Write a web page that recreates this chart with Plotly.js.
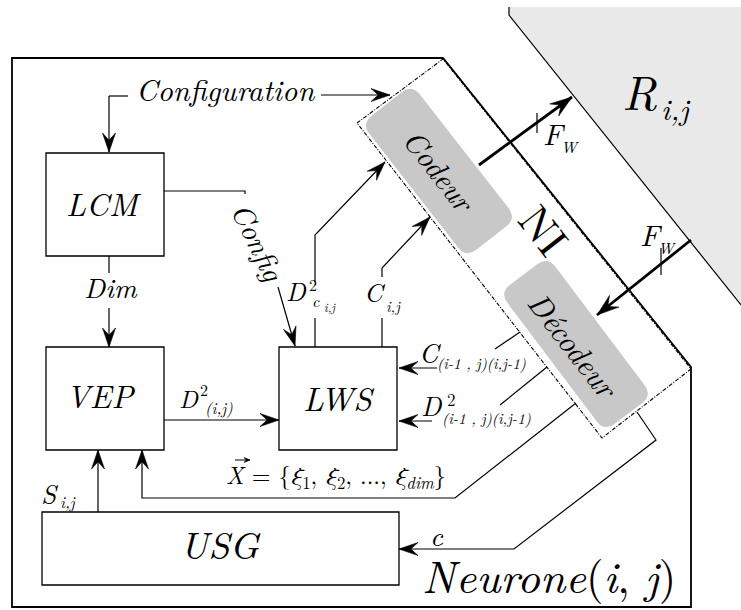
<!DOCTYPE html>
<html><head><meta charset="utf-8">
<script src="https://cdn.plot.ly/plotly-3.0.1.min.js"></script>
<style>html,body{margin:0;padding:0;background:#fff}#chart{width:741px;height:610px}</style>
</head><body><div id="chart"></div>
<script>
// ---- diagram labels (text content) ----
const blockLabels = ['LCM', 'VEP', 'LWS', 'USG'];
const interfaceLabels = ['Codeur', 'Décodeur', 'NI'];
const signalLabels = ['Configuration', 'Config', 'Dim', 'c'];
const subscriptLabels = ['i,j', '(i,j)', '(i-1 , j)(i,j-1)', 'W', 'dim'];
const containerLabels = ['Neurone', 'R'];

const FONT = 'Latin Modern Roman, CMU Serif, TeX Gyre Termes, Nimbus Roman, FreeSerif, Noto Serif, Liberation Serif, DejaVu Serif, Liberation Sans, sans-serif';
const shapes = [];
const ann = [];

function P(pts){ return 'M' + pts.map(p => p[0].toFixed(1) + ',' + p[1].toFixed(1)).join(' L'); }
function line(pts, w, dash){ shapes.push({type:'path', xref:'x', yref:'y', path:P(pts), line:{color:'#000', width:w||1.2, dash:dash||'solid'}}); }
function head(from, tip, L, H){
  L = L || 19; H = H || 6.5;
  const dx = tip[0]-from[0], dy = tip[1]-from[1], n = Math.hypot(dx,dy);
  const ux = dx/n, uy = dy/n, px = -uy, py = ux;
  const b1 = [tip[0]-ux*L+px*H, tip[1]-uy*L+py*H];
  const b2 = [tip[0]-ux*L-px*H, tip[1]-uy*L-py*H];
  const nn = [tip[0]-ux*L*0.62, tip[1]-uy*L*0.62];
  shapes.push({type:'path', xref:'x', yref:'y', path:P([tip,b1,nn,b2])+' Z', fillcolor:'#000', line:{color:'#000', width:0.6}});
}
function arrow(pts, w, L, H){ line(pts, w); head(pts[pts.length-2], pts[pts.length-1], L, H); }
function rrect(cx, cy, Lg, W, ang, r, fill){
  const t = ang*Math.PI/180, c = Math.cos(t), s = Math.sin(t);
  const tr = (u,v) => [cx + u*c - v*s, cy + u*s + v*c];
  const a = Lg/2, b = W/2;
  const f = p => p[0].toFixed(1)+','+p[1].toFixed(1);
  let d = 'M'+f(tr(-a+r,-b)) + ' L'+f(tr(a-r,-b)) + ' Q'+f(tr(a,-b))+' '+f(tr(a,-b+r))
        + ' L'+f(tr(a,b-r)) + ' Q'+f(tr(a,b))+' '+f(tr(a-r,b))
        + ' L'+f(tr(-a+r,b)) + ' Q'+f(tr(-a,b))+' '+f(tr(-a,b-r))
        + ' L'+f(tr(-a,-b+r)) + ' Q'+f(tr(-a,-b))+' '+f(tr(-a+r,-b)) + ' Z';
  shapes.push({type:'path', xref:'x', yref:'y', path:d, fillcolor:fill, line:{width:0}});
}
function box(x0,y0,x1,y1){ shapes.push({type:'rect', xref:'x', yref:'y', x0, y0, x1, y1, line:{color:'#000', width:1.3}}); }
function T(x, y, text, size, angle){
  const yy = angle ? y : y - 0.12*size;
  ann.push({x, y:yy, xref:'x', yref:'y', text, showarrow:false, textangle:angle||0,
    xanchor:'center', yanchor:'middle', font:{family:FONT, size:size, color:'#000'}});
}
const it = s => '<i>' + s + '</i>';

// ---- background / containers ----
shapes.push({type:'path', xref:'x', yref:'y', path:'M509,7 L741,7 L741,305 L509,15 Z', fillcolor:'#e9e9e9', line:{width:0}});
line([[509,7],[509,15],[741,305]], 1.2);
shapes.push({type:'path', xref:'x', yref:'y', path:'M12,58 L443,58 L691,367 L691,607 L12,607 Z', line:{color:'#000', width:1.8}});
rrect(439, 171, 170, 64, 52, 13, '#c8c8c8');
rrect(576, 344, 174, 60, 53, 13, '#c8c8c8');
shapes.push({type:'path', xref:'x', yref:'y', path:'M357,123 L443,59 L691,369 L602,438 Z', line:{color:'#000', width:1.1, dash:'4px,1.5px,1px,1.5px'}});

// ---- blocks ----
box(46,153,164,256);
box(46,347,164,450);
box(279,347,397,450);
box(42,512,399,585);

// ---- connections ----
line([[128,96],[109,96]]); arrow([[109,96],[109,152]]);
arrow([[321,95],[390,95]]);
line([[164,191],[245,191],[245,194]]);
arrow([[278,287],[295,346]]);
line([[109,256],[109,273]]); arrow([[109,308],[109,347]]);
arrow([[164,420],[279,420]]);
line([[315,347],[315,318]]); arrow([[315,282],[315,235],[385,162]]);
line([[382,347],[382,318]]); arrow([[382,277],[382,268],[430,217]]);
arrow([[437,368],[399,368]]);
line([[520,332],[495,349]]);
arrow([[432,421],[399,421]]);
line([[547,367],[500,405]]);
arrow([[576,403],[455,498],[142,498],[142,450]]);
arrow([[637,412],[656,440],[514,549],[399,549]]);
arrow([[98,512],[98,450]]);
arrow([[479,165],[572,97]], 2.8, 22, 7.5);
line([[537,113],[537,133]], 1.2);
arrow([[691,240],[597,315]], 2.8, 22, 7.5);
line([[661,248],[661,275]], 1.2);
arrow([[235,460],[250,460]], 1, 6, 2.5);

// ---- texts ----
T(225, 92, it(signalLabels[0]), 30);
T(104, 206, it(blockLabels[0]), 32);
T(100, 398, it(blockLabels[1]), 32);
T(338, 401, it(blockLabels[2]), 33);
T(220, 548, it(blockLabels[3]), 38);
T(260, 241, it(signalLabels[1]), 29, 64);
T(111, 289, it(signalLabels[2]), 28);
T(437, 537, it(signalLabels[3]), 28);
T(441, 170, it(interfaceLabels[0]), 30, 52);
T(575, 345, it(interfaceLabels[1]), 31, 52);
T(546, 228, interfaceLabels[2], 44, 52);
T(549, 579, it(containerLabels[0]) + '(' + it('i') + ', ' + it('j') + ')', 45);
T(639, 96, it(containerLabels[1]), 48);
T(675, 111, it(subscriptLabels[0]), 30);
T(554, 136, it('F'), 30); T(570, 148, it(subscriptLabels[3]), 16);
T(651, 237, it('F'), 30); T(667, 249, it(subscriptLabels[3]), 16);
T(189, 400, it('D'), 25); T(204, 391, '2', 16); T(219, 409, it(subscriptLabels[1]), 16);
T(296, 294, it('D'), 26); T(313, 286, '2', 16); T(316, 302, it('c'), 16); T(330, 308, it(subscriptLabels[0]), 12);
T(375, 295, it('C'), 26); T(393, 307, it(subscriptLabels[0]), 15);
T(430, 355, it('C'), 27); T(481, 364, it(subscriptLabels[2]), 15);
T(431, 408, it('D'), 27); T(451, 401, '2', 17); T(486, 419, it(subscriptLabels[2]), 15);
T(50, 496, it('S'), 27); T(68, 503, it(subscriptLabels[0]), 16);
T(336, 478, it('X') + ' = {' + it('ξ') + '<sub>1</sub>, ' + it('ξ') + '<sub>2</sub>, ..., ' + it('ξ') + '<sub>' + it(subscriptLabels[4]) + '</sub>}', 24);

const layout = {
  width: 741, height: 610,
  margin: {l:0, r:0, t:0, b:0},
  paper_bgcolor: '#fff', plot_bgcolor: '#fff',
  showlegend: false,
  xaxis: {range:[0,741], visible:false, fixedrange:true},
  yaxis: {range:[610,0], visible:false, fixedrange:true},
  shapes, annotations: ann
};
Plotly.newPlot('chart', [{x:[], y:[], type:'scatter', mode:'markers', hoverinfo:'skip'}], layout, {staticPlot:true, displayModeBar:false});
</script></body></html>
